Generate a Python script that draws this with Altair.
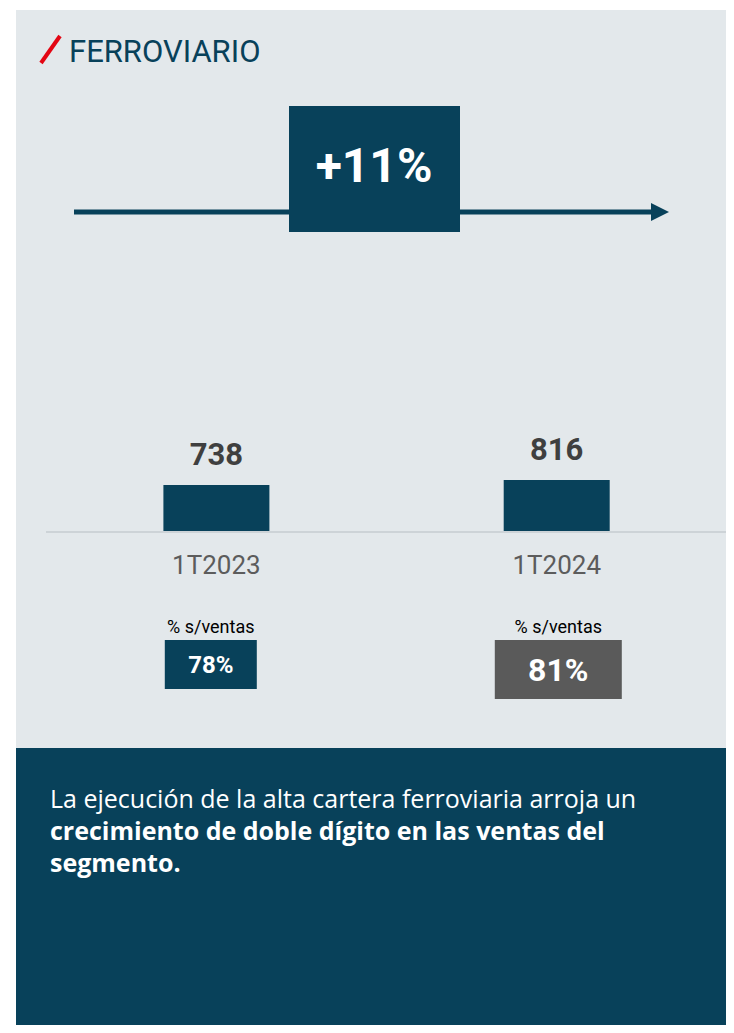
import altair as alt
import pandas as pd

# ---- data ----
categories = ["1T2023", "1T2024"]
values = [738, 816]
pct_labels = ["78%", "81%"]
growth_label = "+11%"
title_text = "FERROVIARIO"
pct_caption = "% s/ventas"
body_lines = [
    "La ejecución de la alta cartera ferroviaria arroja un",
    "crecimiento de doble dígito en las ventas del",
    "segmento.",
]
body_bold = [False, True, True]

# ---- style ----
NAVY = "#08415A"
BG = "#E3E8EB"
GREY_BOX = "#5A5A5A"
RED = "#E30613"
FONT = "Roboto"
BODY_FONT = "Open Sans"
W, H = 718, 1017

df = pd.DataFrame({"cat": categories, "value": values, "pct": pct_labels})
one = pd.DataFrame({"k": [0]})

xs = alt.X("cat:N", axis=None,
           scale=alt.Scale(type="point", domain=categories, range=[208.4, 548.7], padding=0))
ys = alt.Y("value:Q", axis=None,
           scale=alt.Scale(domain=[0, max(values)], range=[523, 472], nice=False, zero=True))

def rect(x, x2, y, y2, color):
    return alt.Chart(one).mark_rect(color=color).encode(
        x=alt.value(x), x2=alt.value(x2), y=alt.value(y), y2=alt.value(y2))

layers = []
# panels
layers.append(rect(8, W, 2, 740, BG))
layers.append(rect(8, W, 740, H + 20, NAVY))

# title
layers.append(alt.Chart(one).mark_rule(color=RED, strokeWidth=4).encode(
    x=alt.value(33), y=alt.value(55), x2=alt.value(52), y2=alt.value(28)))
layers.append(alt.Chart(one).mark_text(
    align="left", baseline="alphabetic", font=FONT, fontSize=31, color=NAVY
).encode(x=alt.value(61), y=alt.value(54), text=alt.value(title_text)))

# growth arrow
layers.append(alt.Chart(one).mark_rule(color=NAVY, strokeWidth=5).encode(
    x=alt.value(66), x2=alt.value(646), y=alt.value(204)))
layers.append(alt.Chart(one).mark_point(
    shape="M -1 -1 L 1 0 L -1 1 Z", size=324, filled=True, opacity=1, color=NAVY
).encode(x=alt.value(652), y=alt.value(204)))
layers.append(rect(281, 452, 98, 224, NAVY))
layers.append(alt.Chart(one).mark_text(
    align="center", baseline="alphabetic", font=FONT, fontSize=48, fontWeight="bold", color="white"
).encode(x=alt.value(366), y=alt.value(174), text=alt.value(growth_label)))

# baseline
layers.append(alt.Chart(one).mark_rule(color="#CDD3D7", strokeWidth=2).encode(
    x=alt.value(38), x2=alt.value(W), y=alt.value(524)))

# bars
layers.append(alt.Chart(df).mark_bar(size=106, color=NAVY).encode(x=xs, y=ys))
layers.append(alt.Chart(df).mark_text(
    baseline="alphabetic", dy=-20, font=FONT, fontSize=31, fontWeight="bold", color="#3F3F3F"
).encode(x=xs, y=ys, text="value:Q"))
layers.append(alt.Chart(df).mark_text(
    baseline="alphabetic", font=FONT, fontSize=26, color="#5C5C5C"
).encode(x=xs, y=alt.value(566), text="cat:N"))

# % s/ventas boxes
box_style = {
    "1T2023": dict(dx=-5.6, w=92, y=632, y2=681, fill=NAVY, fs=24, base=665),
    "1T2024": dict(dx=1.6, w=127, y=632, y2=691, fill=GREY_BOX, fs=32, base=673),
}
for cat, s in box_style.items():
    sub = alt.Chart(df).transform_filter(alt.datum.cat == cat)
    layers.append(sub.mark_text(
        baseline="alphabetic", dx=s["dx"], font=FONT, fontSize=18, color="black"
    ).encode(x=xs, y=alt.value(625), text=alt.value(pct_caption)))
    layers.append(sub.mark_bar(size=s["w"], color=s["fill"], xOffset=s["dx"]).encode(
        x=xs, y=alt.value(s["y"]), y2=alt.value(s["y2"])))
    layers.append(sub.mark_text(
        baseline="alphabetic", dx=s["dx"], font=FONT, fontSize=s["fs"], fontWeight="bold", color="white"
    ).encode(x=xs, y=alt.value(s["base"]), text="pct:N"))

# body text
for i, (line, bold) in enumerate(zip(body_lines, body_bold)):
    layers.append(alt.Chart(one).mark_text(
        align="left", baseline="alphabetic", font=BODY_FONT, fontSize=25,
        fontWeight="bold" if bold else "normal", color="white"
    ).encode(x=alt.value(42), y=alt.value(800 + 32 * i), text=alt.value(line)))

chart = alt.layer(*layers).properties(
    width=W, height=H, padding=0, autosize=alt.AutoSizeParams(type="none"), background="white"
).configure_view(strokeWidth=0)

chart.save("out.html", embed_options={"renderer": "svg", "actions": False})
